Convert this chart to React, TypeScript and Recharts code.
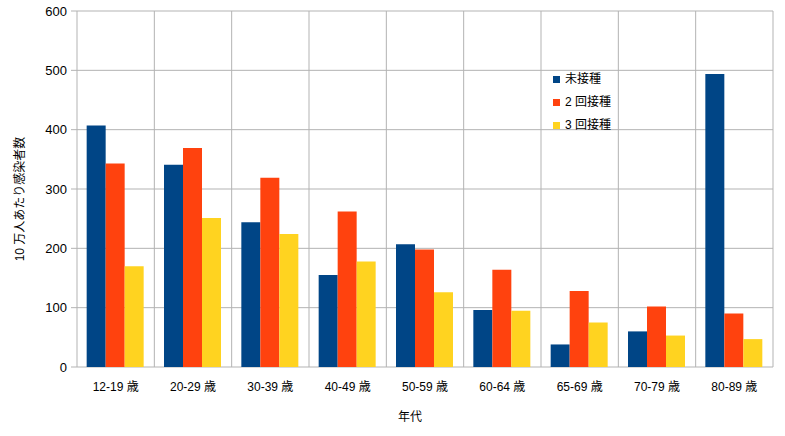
import React from "react";
import { BarChart, Bar, XAxis, YAxis, CartesianGrid } from "recharts";

// 年代ごとの 10 万人あたり感染者数
const ageGroups = [
  "12-19 歳",
  "20-29 歳",
  "30-39 歳",
  "40-49 歳",
  "50-59 歳",
  "60-64 歳",
  "65-69 歳",
  "70-79 歳",
  "80-89 歳",
];
const unvaccinated = [407, 341, 244, 155, 207, 96, 38, 60, 494];
const twoDoses = [343, 369, 319, 262, 198, 164, 128, 102, 90];
const threeDoses = [170, 251, 224, 178, 126, 95, 75, 53, 47];
const yTicks = [0, 100, 200, 300, 400, 500, 600];
const boundaryTicks = [0, 1, 2, 3, 4, 5, 6, 7, 8, 9];
const seriesNames = ["未接種", "2 回接種", "3 回接種"];
const seriesColors = ["#004586", "#ff420e", "#ffd320"];

const data = ageGroups.map((name, i) => ({
  name,
  pos: i + 0.5,
  unvaccinated: unvaccinated[i],
  twoDoses: twoDoses[i],
  threeDoses: threeDoses[i],
}));

const FONT = '"Liberation Sans", "Noto Sans CJK JP", sans-serif';
const GRID = "#b3b3b3";

// grid lines sit on category boundaries, not centres
const boundaryLines = ({ offset }: any) =>
  boundaryTicks.map((t) => offset.left + (t * offset.width) / ageGroups.length);

export default function App() {
  return (
    <div style={{ position: "absolute", left: 0, top: 0, width: 785, height: 436, background: "#fff" }}>
      <BarChart
        width={785}
        height={436}
        data={data}
        margin={{ top: 11, right: 12, left: 0, bottom: 0 }}
        barCategoryGap="12.5%"
        barGap={0}
        style={{ fontFamily: FONT }}
      >
        <CartesianGrid stroke={GRID} verticalCoordinatesGenerator={boundaryLines} />
        <XAxis
          xAxisId="grid"
          dataKey="pos"
          type="number"
          domain={[0, 9]}
          ticks={boundaryTicks}
          tick={false}
          tickSize={5}
          tickLine={{ stroke: GRID }}
          axisLine={{ stroke: GRID }}
          height={0}
        />
        <XAxis
          dataKey="name"
          tickLine={false}
          axisLine={false}
          tickSize={0}
          tickMargin={15}
          height={69}
          tick={{ fill: "#000", fontSize: 12 }}
          label={{
            content: () => (
              <text x={410} y={421} textAnchor="middle" fontSize={12} fill="#000" fontFamily={FONT}>
                年代
              </text>
            ),
          }}
        />
        <YAxis
          domain={[0, 600]}
          ticks={yTicks}
          width={77}
          axisLine={false}
          tickLine={{ stroke: GRID }}
          tickSize={6}
          tickMargin={4}
          tick={{ fill: "#000", fontSize: 13 }}
          label={{
            content: () => (
              <text
                x={24}
                y={199}
                textAnchor="middle"
                fontSize={12}
                fill="#000"
                fontFamily={FONT}
                transform="rotate(-90, 24, 199)"
              >
                10 万人あたり感染者数
              </text>
            ),
          }}
        />
        <Bar dataKey="unvaccinated" name={seriesNames[0]} fill={seriesColors[0]} isAnimationActive={false} />
        <Bar dataKey="twoDoses" name={seriesNames[1]} fill={seriesColors[1]} isAnimationActive={false} />
        <Bar dataKey="threeDoses" name={seriesNames[2]} fill={seriesColors[2]} isAnimationActive={false} />
      </BarChart>
      <div
        style={{
          position: "absolute",
          left: 553,
          top: 68,
          fontFamily: FONT,
          fontSize: 12,
          color: "#000",
        }}
      >
        {seriesNames.map((name, i) => (
          <div key={name} style={{ height: 23, lineHeight: "23px", display: "flex", alignItems: "center" }}>
            <span
              style={{
                display: "inline-block",
                width: 7,
                height: 7,
                background: seriesColors[i],
                marginRight: 5,
              }}
            />
            {name}
          </div>
        ))}
      </div>
    </div>
  );
}
